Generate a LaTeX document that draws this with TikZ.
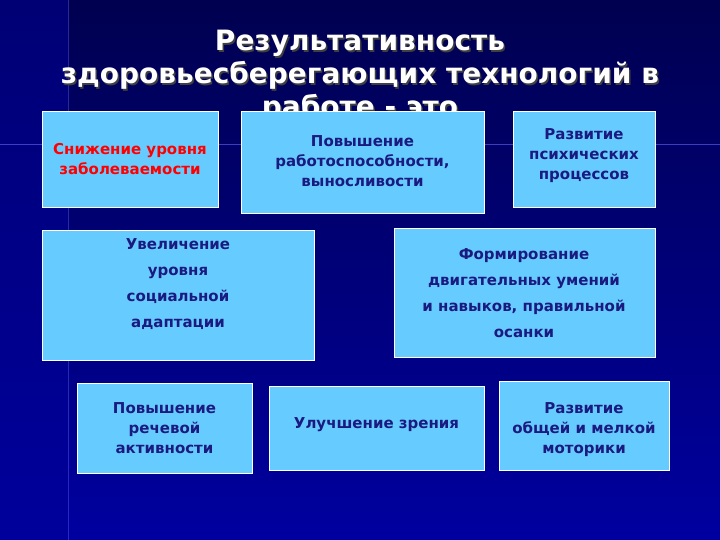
\documentclass[tikz,border=0pt]{standalone}
\usepackage{fontspec}
\setmainfont{DejaVu Sans}
\definecolor{bx}{HTML}{66CCFF}
\definecolor{tx}{HTML}{1A1A80}
\definecolor{bgA}{HTML}{000050}
\definecolor{bgB}{HTML}{0000A0}
\begin{document}
\begin{tikzpicture}[x=1pt,y=-1pt,
  card/.style={draw=white,line width=0.8pt,fill=bx},
  cardtext/.style={text=tx,font=\bfseries\fontsize{15}{20}\selectfont,align=center},
  ttl/.style={text=white,font=\bfseries\fontsize{28}{33}\selectfont,align=center}]
\useasboundingbox (0,0) rectangle (720,540);
\shade[top color=bgA,bottom color=bgB] (0,0) rectangle (720,540);
\fill[blue!60!black,opacity=0.5] (0,0) rectangle (68,540);
\draw[blue!60!white,opacity=0.6,line width=1pt] (0,145) -- (720,145);
\draw[blue!60!white,opacity=0.4,line width=1pt] (68,0) -- (68,540);
\node[ttl] (title) at (360,77) {\makebox[0pt]{\hspace{3pt}\raisebox{-2pt}{\textcolor{black!75}{Результативность}}}\makebox[0pt]{Результативность}\\
\makebox[0pt]{\hspace{3pt}\raisebox{-2pt}{\textcolor{black!75}{здоровьесберегающих технологий в}}}\makebox[0pt]{здоровьесберегающих технологий в}\\
\makebox[0pt]{\hspace{3pt}\raisebox{-2pt}{\textcolor{black!75}{работе - это}}}\makebox[0pt]{работе - это}};
\draw[card] (42,111) rectangle (218,207) node[midway,cardtext,text=red] (b1) {Снижение уровня\\заболеваемости};
\draw[card] (241,111) rectangle (484,213) node[midway,cardtext,yshift=1pt] (b2) {Повышение\\работоспособности,\\выносливости};
\draw[card] (513,111) rectangle (655,207) node[midway,cardtext,yshift=3pt] (b3) {Развитие\\психических\\ процессов};
\draw[card] (42,230) rectangle (314,360);
\node[cardtext,font=\bfseries\fontsize{15}{26}\selectfont,anchor=north] (b4) at (178,235) {Увеличение\\уровня\\социальной\\адаптации};
\draw[card] (394,228) rectangle (655,357);
\node[cardtext,font=\bfseries\fontsize{15}{26}\selectfont,anchor=north] (b5) at (524,245) {Формирование\\двигательных умений\\и навыков, правильной\\осанки};
\draw[card] (77,383) rectangle (252,473) node[midway,cardtext] (b6) {Повышение\\речевой\\ активности};
\draw[card] (269,386) rectangle (484,470) node[midway,cardtext,yshift=3pt] (b7) {Улучшение зрения};
\draw[card] (499,381) rectangle (669,470) node[midway,cardtext,yshift=-4pt] (b8) {Развитие\\общей и мелкой\\моторики};
\end{tikzpicture}
\end{document}
